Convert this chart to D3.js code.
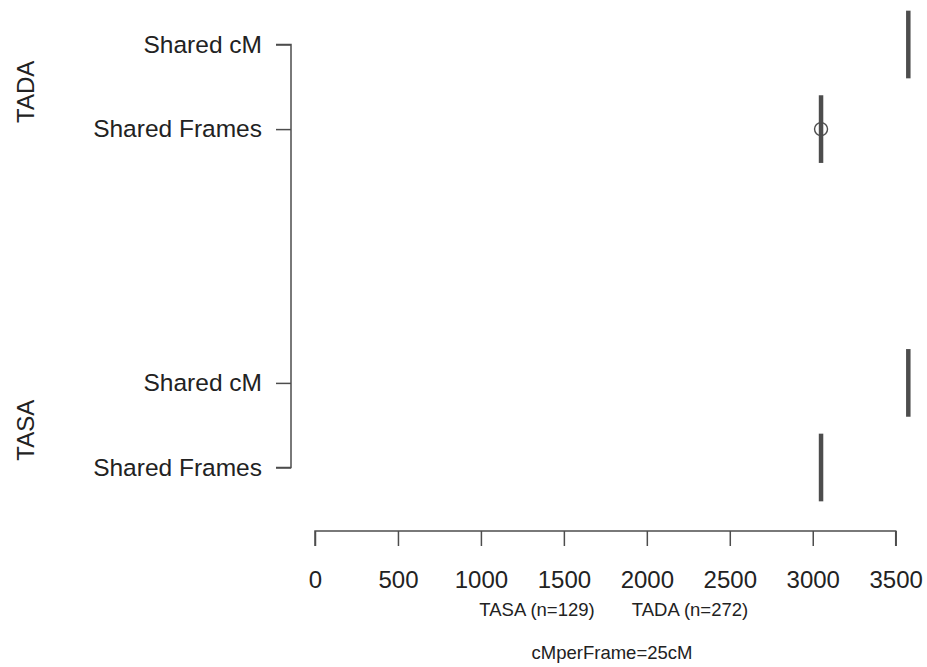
<!DOCTYPE html>
<html>
<head>
<meta charset="utf-8">
<script src="https://cdn.jsdelivr.net/npm/d3@7"></script>
<style>
  body { margin: 0; background: #fff; }
  svg { display: block; font-family: "Liberation Sans", Arial, sans-serif; }
</style>
</head>
<body>
<div id="chart"></div>
<script>
// groups and measures, top to bottom
const groups = ["TADA", "TASA"]
const measures = ["Shared cM", "Shared Frames"]
// slot on the category axis (R boxplot "at")
const slots = [0, 1, 4, 5]
// five-number summaries, all values identical (degenerate boxes)
const boxMin = [3576, 3050, 3576, 3050]
const boxQ1 = [3576, 3050, 3576, 3050]
const boxMedian = [3576, 3050, 3576, 3050]
const boxQ3 = [3576, 3050, 3576, 3050]
const boxMax = [3576, 3050, 3576, 3050]
const outliers = [[], [3050], [], []]
const xTicks = [0, 500, 1000, 1500, 2000, 2500, 3000, 3500]
const counts = ["TASA (n=129)", "TADA (n=272)"]
const note = "cMperFrame=25cM"

const width = 927
const height = 667
const font = "'Liberation Sans', Arial, sans-serif"

const svg = d3.select("#chart")
  .append("svg")
  .attr("width", width)
  .attr("height", height)

const x = d3.scaleLinear().domain([0, 3500]).range([315, 895.7])
const y = d3.scaleLinear().domain([0, 5]).range([44.5, 467.5])
const halfBox = 0.4 * (y(1) - y(0))
const ink = "#4d4d4d"

const rows = slots.map((s, i) => ({
  slot: s,
  label: measures[i % 2],
  group: groups[Math.floor(i / 2)],
  min: boxMin[i], q1: boxQ1[i], med: boxMedian[i], q3: boxQ3[i], max: boxMax[i],
  out: outliers[i]
}))

// x axis
const xAxis = svg.append("g")
  .attr("transform", "translate(0,531)")
  .call(d3.axisBottom(x).tickValues(xTicks).tickSize(15).tickPadding(25)
    .tickFormat(d3.format("d")))
xAxis.select(".domain").attr("stroke", ink).attr("stroke-width", 1.5)
  .attr("d", `M${x(0)},15V0H${x(3500)}V15`)
xAxis.selectAll(".tick line").attr("stroke", ink).attr("stroke-width", 1.5)
xAxis.selectAll(".tick text")
  .attr("fill", "#222")
  .style("font-size", "24px")
  .style("font-family", font)

// y axis (categories)
const yAxis = svg.append("g")
  .attr("transform", "translate(291,0)")
  .call(d3.axisLeft(y).tickValues(slots).tickSize(15).tickPadding(14)
    .tickFormat((d, i) => rows[i].label))
yAxis.select(".domain").attr("stroke", ink).attr("stroke-width", 1.5)
  .attr("d", `M-15,${y(0)}H0V${y(5)}H-15`)
yAxis.selectAll(".tick line").attr("stroke", ink).attr("stroke-width", 1.5)
yAxis.selectAll(".tick text")
  .attr("fill", "#222")
  .style("font-size", "24.5px")
  .style("font-family", font)

// group labels
svg.selectAll(".group-label")
  .data(groups)
  .enter()
  .append("text")
  .attr("class", "group-label")
  .attr("transform", (d, i) => {
    const cy = (y(slots[i * 2]) + y(slots[i * 2 + 1])) / 2 + 5
    return `translate(25,${cy}) rotate(-90)`
  })
  .attr("text-anchor", "middle")
  .attr("dominant-baseline", "central")
  .attr("fill", "#222")
  .style("font-size", "24px")
  .style("font-family", font)
  .text(d => d)

// boxes
const box = svg.selectAll(".box")
  .data(rows)
  .enter()
  .append("g")
  .attr("class", "box")

box.append("line")
  .attr("x1", d => x(d.min)).attr("x2", d => x(d.max))
  .attr("y1", d => y(d.slot)).attr("y2", d => y(d.slot))
  .attr("stroke", ink).attr("stroke-width", 1)

box.append("rect")
  .attr("x", d => x(d.q1))
  .attr("width", d => x(d.q3) - x(d.q1))
  .attr("y", d => y(d.slot) - halfBox)
  .attr("height", halfBox * 2)
  .attr("fill", "none")
  .attr("stroke", ink)
  .attr("stroke-width", 1)

box.append("line")
  .attr("x1", d => x(d.med)).attr("x2", d => x(d.med))
  .attr("y1", d => y(d.slot) - halfBox).attr("y2", d => y(d.slot) + halfBox)
  .attr("stroke", ink)
  .attr("stroke-width", 4.5)

box.selectAll(".outlier")
  .data(d => d.out.map(v => ({ v, slot: d.slot })))
  .enter()
  .append("circle")
  .attr("class", "outlier")
  .attr("cx", d => x(d.v))
  .attr("cy", d => y(d.slot))
  .attr("r", 6.5)
  .attr("fill", "none")
  .attr("stroke", ink)
  .attr("stroke-width", 1.4)

// sub titles
svg.selectAll(".count")
  .data(counts)
  .enter()
  .append("text")
  .attr("class", "count")
  .attr("x", (d, i) => [537, 690][i])
  .attr("y", 616)
  .attr("text-anchor", "middle")
  .attr("fill", "#222")
  .style("font-size", "18.5px")
  .style("font-family", font)
  .text(d => d)

svg.append("text")
  .attr("x", 612)
  .attr("y", 659)
  .attr("text-anchor", "middle")
  .attr("fill", "#222")
  .style("font-size", "18.5px")
  .style("font-family", font)
  .text(note)
</script>
</body>
</html>
